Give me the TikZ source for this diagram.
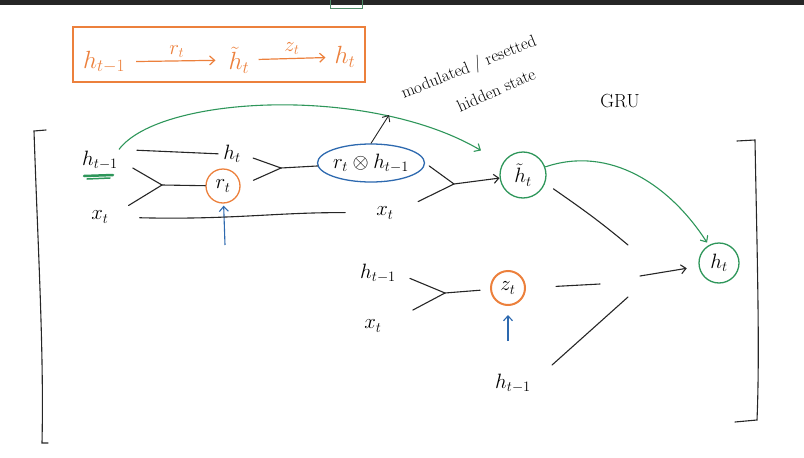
\documentclass[tikz,border=0pt]{standalone}
\usetikzlibrary{shapes.geometric,arrows.meta}
\definecolor{hworange}{RGB}{236,128,60}
\definecolor{hwgreen}{RGB}{46,150,90}
\definecolor{hwblue}{RGB}{45,105,175}

\begin{document}
\begin{tikzpicture}[
	x=1pt, y=-1pt,
	txt/.style={font=\fontsize{20}{24}\selectfont, inner sep=1pt},
	pen/.style={line width=1.1pt, black!85, line cap=round},
	ring/.style={circle, draw, line width=1.3pt, minimum size=34pt, inner sep=0pt, font=\fontsize{20}{24}\selectfont},
	>={Straight Barb[length=5pt,width=9pt]}
	]
\useasboundingbox (0,0) rectangle (804,458);
\fill[black!85] (0,0) rectangle (804,5);
\draw[hwgreen!60!gray, line width=0.8pt] (330,0) -- (330,8) -- (362,8) -- (362,0);

% summary box
\node[txt, text=hworange, font=\fontsize{24}{28}\selectfont] at (104,62) (bh1){$h_{t-1}$};
\node[txt, text=hworange, font=\fontsize{24}{28}\selectfont] at (239,60) (bh2){$\tilde{h}_t$};
\node[txt, text=hworange, font=\fontsize{24}{28}\selectfont] at (345,57) (bh3){$h_t$};
\draw[hworange, line width=1.2pt, ->, shorten <=10pt, shorten >=12pt] (bh1) -- node[above=2pt, txt, text=hworange]{$r_t$} (bh2);
\draw[hworange, line width=1.2pt, ->, shorten <=8pt, shorten >=8pt] (bh2) -- node[above=2pt, txt, text=hworange]{$z_t$} (bh3);
\draw[hworange, line width=1.2pt] (73,27) rectangle (365,82);

% brackets
\draw[pen] (46,130) -- (34,131) .. controls (38,250) and (44,350) .. (42,443) -- (48,443);
\draw[pen] (737,141) -- (755,140) .. controls (757,250) and (760,350) .. (757,420) -- (735,422);

% reset gate
\node[txt] at (100,160) (hprev){$h_{t-1}$};
\node[txt] at (100,217) (xin){$x_t$};
\node[txt] at (232,154) (hcur){$h_t$};
\node[ring, draw=hworange] at (223,186) (rgate){$r_t$};
\draw[hwgreen, line width=2.5pt, line cap=round] (84,176) -- (113,175);
\draw[hwgreen, line width=1.5pt, line cap=round] (87,179) -- (110,178);
\coordinate (f1) at (162,185);
\coordinate (rin) at (225,245);
\draw[pen, shorten <=18pt, shorten >=4pt] (hprev.north east) -- (hcur.west);
\draw[pen, shorten <=16pt] (hprev.east) -- (f1);
\draw[pen, shorten <=22pt] (xin.east) -- (f1);
\draw[pen] (f1) -- (rgate);
\draw[hwblue, line width=1.1pt, ->, shorten >=2pt] (rin) -- (rgate);

% candidate state
\node[ellipse, draw=hwblue, line width=1.3pt, minimum width=95pt, minimum height=38pt, txt, inner sep=0pt] at (371,163) (reset){$r_t\otimes h_{t-1}$};
\node[txt] at (385,213) (xin2){$x_t$};
\node[ring, draw=hwgreen, minimum size=46pt] at (523,175) (hcand){$\tilde{h}_t$};
\coordinate (f2) at (281,168);
\coordinate (f3) at (454,184);
\draw[pen, shorten <=12pt] (hcur.east) -- (f2);
\draw[pen, shorten <=14pt] (rgate.east) -- (f2);
\draw[pen] (f2) -- (reset);
\draw[pen, shorten <=30pt, shorten >=30pt] (xin.east) .. controls (230,220) and (280,212) .. (xin2.west);
\draw[pen, shorten <=5pt] (reset.east) -- (f3);
\draw[pen, shorten <=26pt] (xin2.east) -- (f3);
\draw[pen, ->] (f3) -- (hcand);
\draw[hwgreen, line width=1.1pt, ->, shorten >=25pt] (hprev.north east) .. controls (160,95) and (370,85) .. (hcand.150);

% note
\coordinate (notetip) at (389,115);
\draw[pen, line width=0.9pt, ->] (reset.north) -- (notetip);
\node[font=\fontsize{17}{20}\selectfont, rotate=22, inner sep=0pt] at (469,68) (note1){modulated / resetted};
\node[font=\fontsize{17}{20}\selectfont, rotate=24, inner sep=0pt] at (496,90) (note2){hidden state};
\node[font=\fontsize{19}{22}\selectfont] at (620,101) (gru){GRU};

% update gate
\node[txt] at (378,273) (hprev2){$h_{t-1}$};
\node[txt] at (373,326) (xin3){$x_t$};
\node[ring, draw=hworange, line width=2pt] at (508,288) (zgate){$z_t$};
\node[txt] at (513,383) (hprev3){$h_{t-1}$};
\coordinate (f4) at (445,293);
\coordinate (zin) at (508,341);
\draw[pen, shorten <=14pt] (hprev2.east) -- (f4);
\draw[pen, shorten <=34pt] (xin3.east) -- (f4);
\draw[pen, shorten >=10pt] (f4) -- (zgate);
\draw[hwblue, line width=1.1pt, ->, shorten >=9pt] (zin) -- (zgate);

% output
\node[ring, draw=hwgreen, minimum size=40pt] at (719,263) (hout){$h_t$};
\coordinate (m1) at (628,245);
\coordinate (m2) at (600,284);
\coordinate (m3) at (628,297);
\coordinate (m0) at (640,276);
\draw[pen, shorten <=10pt] (hcand.-20) to[out=-35, in=140] (m1);
\draw[pen, shorten <=30pt] (zgate.east) -- (m2);
\draw[pen, shorten <=27pt] (hprev3.east) -- (m3);
\draw[pen, ->, shorten >=12pt] (m0) -- (hout);
\draw[hwgreen, line width=1.1pt, ->, shorten >=3pt] (hcand.20) .. controls (610,145) and (670,185) .. (hout.120);
\end{tikzpicture}
\end{document}
